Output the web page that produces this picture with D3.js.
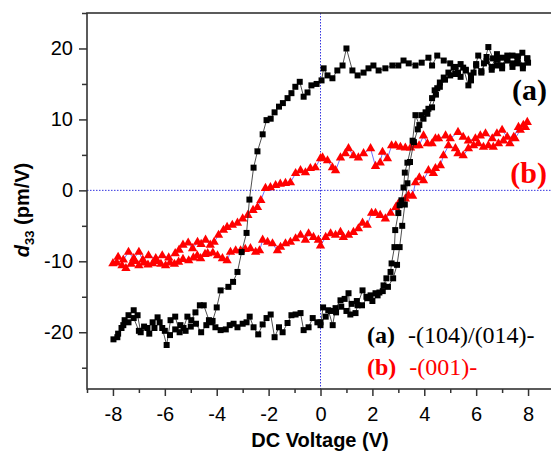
<!DOCTYPE html>
<html>
<head>
<meta charset="utf-8">
<script src="https://cdn.jsdelivr.net/npm/d3@7.9.0/dist/d3.min.js"></script>
<style>
  body { margin: 0; background: #fff; }
  svg { display: block; font-family: "Liberation Sans", Arial, sans-serif; }
</style>
</head>
<body>
<svg id="chart" width="551" height="453"></svg>
<script>
// ticks
const xTicks = [-8, -6, -4, -2, 0, 2, 4, 6, 8];
const xMinor = [-9, -7, -5, -3, -1, 1, 3, 5, 7, 9];
const yTicks = [-20, -10, 0, 10, 20];
const yMinor = [-25, -15, -5, 5, 15, 25];

// (a) -(104)/(014)-  : [V, d33]
const aInitial = [[0.0,-18.6],[0.2,-17.8],[0.4,-17.0],[0.6,-17.2],[0.8,-16.4],[1.0,-17.0],[1.2,-16.0],[1.4,-15.6],[1.6,-16.2],[1.8,-15.2],[2.0,-15.6],[2.2,-14.8],[2.4,-14.2],[2.6,-13.6],[2.8,-12.4],[2.95,-10.5],[3.05,-8.0],[3.15,-5.0],[3.25,-2.0],[3.35,1.0],[3.45,4.0],[3.6,6.8],[3.75,8.6],[3.97,10.1],[4.12,10.8],[4.3,11.7],[4.45,13.5],[4.6,14.6],[4.8,15.6],[5.0,16.2],[5.2,17.4],[5.4,16.0],[5.6,17.0],[5.8,16.2],[6.0,17.8],[6.2,16.6],[6.4,18.8],[6.6,17.4],[6.8,19.2],[7.0,17.6],[7.2,19.0],[7.4,17.4],[7.6,18.6],[7.8,17.2],[8.0,18.0]];
const aDown = [[7.97,18.6],[7.8,17.6],[7.6,18.9],[7.4,17.9],[7.2,18.6],[7.0,17.2],[6.8,18.4],[6.6,17.0],[6.4,18.2],[6.2,16.8],[6.0,17.6],[5.8,15.5],[5.6,16.9],[5.4,17.8],[5.2,16.4],[5.0,17.9],[4.75,18.3],[4.5,19.0],[4.3,17.6],[4.16,18.7],[3.9,18.0],[3.66,17.6],[3.4,17.9],[3.2,18.3],[3.0,17.6],[2.77,17.6],[2.5,17.2],[2.24,16.9],[2.04,17.6],[1.85,17.2],[1.66,16.6],[1.43,16.2],[1.23,16.9],[1.0,20.0],[0.85,17.6],[0.65,16.9],[0.46,15.8],[0.27,16.2],[0.12,17.2],[0.04,15.5],[-0.15,15.0],[-0.35,14.8],[-0.5,13.8],[-0.65,13.2],[-0.8,15.3],[-0.97,14.6],[-1.12,13.7],[-1.27,13.0],[-1.45,12.3],[-1.6,11.8],[-1.77,11.0],[-1.92,10.1],[-2.08,9.9],[-2.23,7.9],[-2.43,5.5],[-2.58,3.2],[-2.74,-1.3],[-2.85,-6.0],[-3.04,-8.7],[-3.2,-11.5],[-3.37,-12.9],[-3.55,-13.6],[-3.85,-14.1],[-4.0,-16.5],[-4.16,-18.4],[-4.3,-18.3],[-4.5,-16.2],[-4.65,-16.2],[-4.82,-17.2],[-4.98,-18.3],[-5.13,-17.8],[-5.28,-19.4],[-5.43,-20.0],[-5.6,-17.8],[-5.78,-18.3],[-5.93,-21.8],[-6.1,-19.4],[-6.28,-17.9],[-6.47,-18.6],[-6.67,-19.4],[-6.93,-20.0],[-7.05,-17.6],[-7.2,-16.9],[-7.4,-17.6],[-7.55,-18.3],[-7.67,-19.4],[-7.83,-20.7],[-7.98,-21.0]];
const aUp = [[-7.8,-20.2],[-7.6,-19.0],[-7.4,-18.6],[-7.2,-18.0],[-7.0,-19.8],[-6.8,-19.2],[-6.6,-20.2],[-6.4,-19.4],[-6.2,-18.6],[-6.0,-19.8],[-5.8,-20.4],[-5.6,-19.6],[-5.4,-19.0],[-5.2,-19.8],[-5.0,-19.2],[-4.8,-18.8],[-4.6,-20.0],[-4.4,-19.0],[-4.2,-18.6],[-4.05,-19.3],[-3.85,-19.7],[-3.65,-19.6],[-3.5,-19.0],[-3.35,-18.8],[-3.2,-19.3],[-3.0,-18.8],[-2.85,-18.6],[-2.73,-17.8],[-2.58,-19.3],[-2.4,-20.3],[-2.23,-18.9],[-2.08,-18.0],[-1.92,-17.5],[-1.77,-20.7],[-1.6,-19.3],[-1.46,-20.0],[-1.27,-18.7],[-1.12,-17.6],[-0.96,-17.5],[-0.77,-17.3],[-0.65,-19.7],[-0.46,-19.3],[-0.3,-18.0],[-0.12,-18.6],[0.0,-19.0],[0.1,-16.5],[0.3,-16.9],[0.47,-19.0],[0.58,-16.6],[0.77,-15.5],[0.93,-15.3],[1.08,-14.5],[1.15,-17.5],[1.35,-17.3],[1.43,-16.2],[1.62,-14.1],[1.77,-15.0],[1.93,-14.8],[2.12,-14.5],[2.27,-14.4],[2.43,-13.4],[2.54,-12.4],[2.7,-11.5],[2.74,-10.3],[2.85,-8.0],[2.88,-5.6],[3.0,-3.2],[3.05,-2.1],[3.12,-1.4],[3.2,0.4],[3.25,2.5],[3.35,3.9],[3.55,7.0],[3.66,10.6],[3.81,9.2],[3.89,10.6],[4.05,11.0],[4.16,11.5],[4.3,13.0],[4.4,14.1],[4.5,14.4],[4.6,15.2],[4.75,15.9],[4.93,16.6],[5.13,17.3],[5.3,16.6],[5.5,17.3],[5.7,14.8],[5.9,16.6],[6.08,19.0],[6.3,17.9],[6.47,20.2],[6.65,18.6],[6.8,17.6],[7.0,18.7],[7.2,18.3],[7.4,19.0],[7.6,17.9],[7.78,19.4],[7.97,18.6]];

// (b) -(001)-
const bDown = [[7.97,9.6],[7.82,9.2],[7.63,8.9],[7.45,7.5],[7.2,7.5],[7.0,8.5],[6.8,8.0],[6.62,7.3],[6.36,8.0],[6.16,7.7],[5.97,7.3],[5.7,7.0],[5.5,7.5],[5.3,8.2],[5.0,7.3],[4.82,7.7],[4.55,7.3],[4.43,7.3],[4.3,6.6],[4.12,6.6],[3.97,7.7],[3.8,6.3],[3.66,6.3],[3.47,6.0],[3.27,6.0],[3.08,6.1],[2.9,6.3],[2.74,6.3],[2.58,4.5],[2.39,5.4],[2.3,3.9],[2.12,3.4],[1.93,5.9],[1.66,5.2],[1.46,4.6],[1.27,4.9],[1.08,5.9],[0.96,5.2],[0.77,4.6],[0.58,2.8],[0.46,3.2],[0.27,4.2],[0.08,4.6],[0.0,4.5],[-0.2,3.2],[-0.39,3.1],[-0.58,2.5],[-0.77,2.8],[-0.96,2.4],[-1.16,1.1],[-1.35,1.0],[-1.55,0.9],[-1.73,0.7],[-1.93,0.4],[-2.12,0.3],[-2.3,-1.4],[-2.43,-2.4],[-2.6,-2.8],[-2.8,-3.5],[-3.0,-4.0],[-3.2,-4.6],[-3.4,-4.9],[-3.6,-5.2],[-3.74,-5.6],[-3.93,-6.3],[-4.1,-7.3],[-4.25,-7.7],[-4.43,-7.0],[-4.6,-7.6],[-4.74,-7.3],[-4.93,-8.2],[-5.1,-7.4],[-5.3,-7.7],[-5.45,-8.4],[-5.6,-8.9],[-5.85,-9.5],[-6.1,-9.2],[-6.35,-9.6],[-6.63,-9.2],[-6.85,-9.8],[-7.0,-8.7],[-7.2,-9.6],[-7.4,-8.7],[-7.6,-9.8],[-7.8,-9.4],[-8.0,-10.3]];
const bUp = [[-7.85,-10.2],[-7.65,-10.6],[-7.5,-11.0],[-7.3,-10.4],[-7.15,-10.0],[-7.0,-10.6],[-6.8,-10.2],[-6.65,-10.5],[-6.47,-10.3],[-6.3,-10.0],[-6.15,-10.4],[-5.97,-10.6],[-5.8,-10.2],[-5.63,-10.4],[-5.47,-10.1],[-5.3,-9.7],[-5.08,-9.9],[-4.9,-9.5],[-4.75,-9.2],[-4.62,-9.6],[-4.45,-9.0],[-4.35,-8.9],[-4.15,-8.8],[-3.97,-9.2],[-3.78,-9.6],[-3.6,-9.9],[-3.47,-8.7],[-3.27,-8.5],[-3.08,-8.5],[-2.9,-8.3],[-2.7,-8.2],[-2.5,-8.7],[-2.35,-8.5],[-2.23,-7.0],[-2.04,-7.3],[-1.85,-7.5],[-1.66,-8.5],[-1.54,-8.0],[-1.35,-7.5],[-1.16,-7.3],[-0.96,-6.8],[-0.77,-6.3],[-0.58,-7.0],[-0.46,-6.1],[-0.27,-6.6],[-0.08,-7.0],[0.0,-7.8],[0.2,-6.6],[0.39,-6.1],[0.58,-6.3],[0.77,-5.9],[0.88,-6.6],[1.08,-6.3],[1.27,-5.9],[1.46,-5.4],[1.62,-4.6],[1.8,-4.9],[1.97,-3.2],[2.12,-3.2],[2.3,-3.5],[2.5,-4.0],[2.7,-3.2],[2.9,-2.4],[3.0,-1.9],[3.27,-1.2],[3.39,-0.7],[3.55,-0.8],[3.66,1.1],[3.81,1.8],[3.97,1.4],[4.16,2.8],[4.35,2.4],[4.43,3.1],[4.62,3.5],[4.74,4.9],[4.93,6.3],[5.2,5.9],[5.3,5.2],[5.5,4.9],[5.7,5.9],[5.9,6.3],[6.08,6.6],[6.28,6.1],[6.47,6.3],[6.66,6.1],[6.86,6.6],[7.05,7.0],[7.3,6.6],[7.5,7.3],[7.7,8.5],[7.9,8.9]];

const seriesA = aInitial.concat(aDown, aUp);
const seriesB = bDown.concat(bUp);

const svg = d3.select('#chart');
const x = d3.scaleLinear().domain([-9, 9]).range([87, 554]);
const y = d3.scaleLinear().domain([-28, 25]).range([389, 13]);
const axisColor = '#333';

// zero lines
svg.append('line')
  .attr('x1', x(-9)).attr('x2', x(9)).attr('y1', y(0)).attr('y2', y(0))
  .attr('stroke', '#3434e0').attr('stroke-width', 1).attr('stroke-dasharray', '1.5,1.5');
svg.append('line')
  .attr('x1', x(0)).attr('x2', x(0)).attr('y1', y(25)).attr('y2', y(-28))
  .attr('stroke', '#3434e0').attr('stroke-width', 1).attr('stroke-dasharray', '1.5,1.5');

const line = d3.line().x(d => x(d[0])).y(d => y(d[1]));

// (b) red triangles, blue connecting line
svg.append('path').datum(seriesB)
  .attr('d', line).attr('fill', 'none')
  .attr('stroke', '#4a4aff').attr('stroke-width', 0.8);
svg.append('g').selectAll('path').data(seriesB).join('path')
  .attr('transform', d => `translate(${x(d[0])},${y(d[1])})`)
  .attr('d', d3.symbol(d3.symbolTriangle, 38))
  .attr('fill', '#ff0000');

// (a) black squares
svg.append('path').datum(seriesA)
  .attr('d', line).attr('fill', 'none')
  .attr('stroke', '#222').attr('stroke-width', 0.8);
svg.append('g').selectAll('path').data(seriesA).join('path')
  .attr('transform', d => `translate(${x(d[0])},${y(d[1])})`)
  .attr('d', d3.symbol(d3.symbolSquare, 36))
  .attr('fill', '#000');

// frame
svg.append('rect')
  .attr('x', x(-9)).attr('y', y(25))
  .attr('width', x(9) - x(-9)).attr('height', y(-28) - y(25))
  .attr('fill', 'none').attr('stroke', axisColor).attr('stroke-width', 1.6);

// axes
const gx = svg.append('g').attr('transform', `translate(0,${y(-28)})`)
  .call(d3.axisBottom(x).tickValues(xTicks).tickSize(7).tickPadding(11).tickFormat(d => String(d)));
const gxm = svg.append('g').attr('transform', `translate(0,${y(-28)})`)
  .call(d3.axisBottom(x).tickValues(xMinor).tickSize(4).tickFormat(''));
const gy = svg.append('g').attr('transform', `translate(${x(-9)},0)`)
  .call(d3.axisLeft(y).tickValues(yTicks).tickSize(8).tickPadding(6).tickFormat(d => String(d)));
const gym = svg.append('g').attr('transform', `translate(${x(-9)},0)`)
  .call(d3.axisLeft(y).tickValues(yMinor).tickSize(5).tickFormat(''));

[gx, gxm, gy, gym].forEach(g => {
  g.select('.domain').remove();
  g.selectAll('line').attr('stroke', axisColor).attr('stroke-width', 1.5);
  g.selectAll('text').attr('font-size', 20).attr('fill', '#000')
    .attr('font-family', '"Liberation Sans", Arial, sans-serif');
});

// axis titles
svg.append('text')
  .attr('x', 320).attr('y', 447).attr('text-anchor', 'middle')
  .attr('font-size', 20).attr('font-weight', 'bold')
  .text('DC Voltage (V)');

const yTitle = svg.append('text')
  .attr('transform', 'translate(29,210) rotate(-90)')
  .attr('text-anchor', 'middle').attr('font-size', 20).attr('font-weight', 'bold');
yTitle.append('tspan').attr('font-style', 'italic').text('d');
yTitle.append('tspan').attr('font-size', 13).attr('dy', 5).text('33');
yTitle.append('tspan').attr('dy', -5).text(' (pm/V)');

// curve labels
const serif = '"Liberation Serif", "Times New Roman", serif';
svg.append('text').attr('x', 547).attr('y', 100).attr('text-anchor', 'end')
  .attr('font-family', serif).attr('font-size', 30).attr('font-weight', 'bold')
  .attr('fill', '#000').text('(a)');
svg.append('text').attr('x', 547).attr('y', 183).attr('text-anchor', 'end')
  .attr('font-family', serif).attr('font-size', 30).attr('font-weight', 'bold')
  .attr('fill', '#ff0000').text('(b)');

// legend text
const legA = svg.append('text').attr('x', 367).attr('y', 343)
  .attr('font-family', serif).attr('font-size', 24).attr('fill', '#000');
legA.append('tspan').attr('font-weight', 'bold').text('(a)');
legA.append('tspan').attr('dx', 13).text('-(104)/(014)-');

const legB = svg.append('text').attr('x', 367).attr('y', 375)
  .attr('font-family', serif).attr('font-size', 24).attr('fill', '#ff0000');
legB.append('tspan').attr('font-weight', 'bold').text('(b)');
legB.append('tspan').attr('dx', 13).text('-(001)-');
</script>
</body>
</html>
